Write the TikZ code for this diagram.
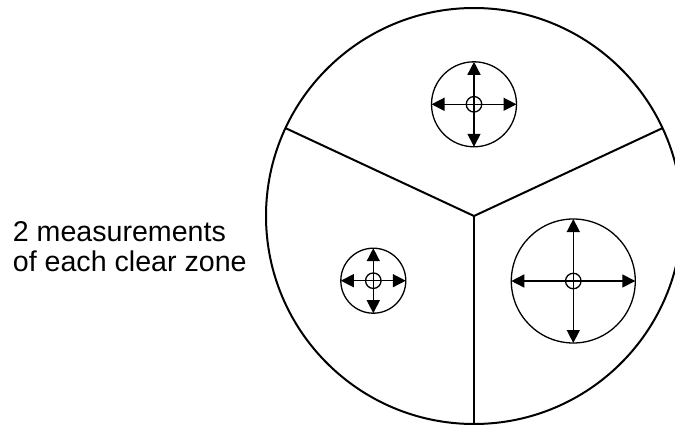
\documentclass[tikz,border=0pt]{standalone}
\usepackage{fontspec}
\setmainfont{Liberation Sans}
\usetikzlibrary{arrows.meta,calc}
\begin{document}
\begin{tikzpicture}[x=1pt,y=1pt,
  bigline/.style={line width=2pt},
  zone/.style={circle,draw,line width=1.3pt,inner sep=0pt,outer sep=0pt},
  hub/.style={circle,draw,line width=1.3pt,inner sep=0pt,minimum size=15.5pt},
  meas/.style={line width=1.5pt,{Triangle[length=13pt,width=13pt]}-{Triangle[length=13pt,width=13pt]}},
  lbl/.style={anchor=base west,inner sep=0pt,font=\fontsize{28.6}{30}\selectfont}]
\useasboundingbox (0,0) rectangle (675,-425);
% big disc divided in three sectors
\coordinate (C) at (474,-216);
\draw[bigline] (C) circle[radius=208];
\coordinate (s1) at ($(C)+(25:208)$);
\coordinate (s2) at ($(C)+(155:208)$);
\coordinate (s3) at ($(C)+(270:208)$);
\draw[bigline] (s2) -- (C) -- (s1);
\draw[bigline] (C) -- (s3);
% clear zones
\node[zone,minimum size=85pt] (ztop) at (474,-104.3) {};
\node[zone,minimum size=65pt] (zleft) at (373.3,-280.7) {};
\node[zone,minimum size=124pt] (zright) at (573.3,-281) {};
\foreach \z in {ztop,zleft,zright}{
  \node[hub] (\z-hub) at (\z.center) {};
  \draw[meas] (\z.north) -- (\z.south);
  \draw[meas] (\z.west) -- (\z.east);
}
% label
\node[lbl] (l1) at (12.7,-241.7) {2 measurements};
\node[lbl] (l2) at (12.7,-271.7) {of each clear zone};
\end{tikzpicture}
\end{document}
